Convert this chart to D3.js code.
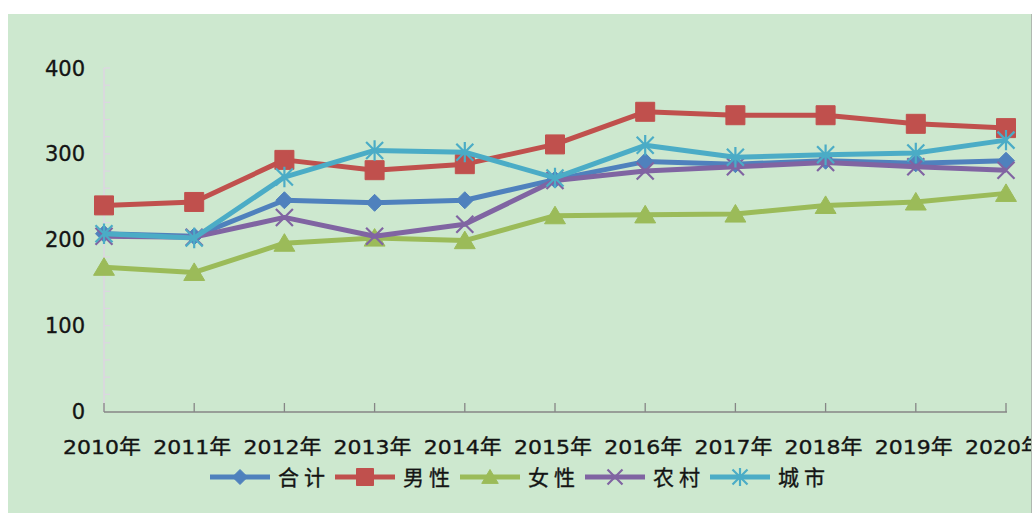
<!DOCTYPE html>
<html>
<head>
<meta charset="utf-8">
<style>
  body { margin: 0; background: #fff; }
  text { font-family: "DejaVu Sans", "Noto Sans CJK SC", sans-serif; fill: #141414; stroke: #141414; stroke-width: 0.35px; }
</style>
</head>
<body>
<svg width="1034" height="513"></svg>
<script src="https://d3js.org/d3.v7.min.js"></script>
<script>

var years = ["2010年", "2011年", "2012年", "2013年", "2014年", "2015年", "2016年", "2017年", "2018年", "2019年", "2020年"],
    seriesNames = ["合计", "男性", "女性", "农村", "城市"],
    total = [207, 204, 246, 243, 246, 270, 291, 288, 292, 289, 292],
    male = [240, 244, 293, 281, 288, 311, 349, 345, 345, 335, 330],
    female = [168, 162, 196, 202, 199, 228, 229, 230, 240, 244, 254],
    rural = [204, 203, 226, 204, 218, 269, 280, 285, 290, 285, 281],
    urban = [207, 202, 273, 304, 302, 272, 310, 296, 299, 301, 316],
    yTicks = [0, 100, 200, 300, 400];

var colors = ["#4f81bd", "#c0504d", "#9bbb59", "#8064a2", "#4bacc6"],
    markers = ["diamond", "square", "triangle", "cross", "star"],
    allValues = [total, male, female, rural, urban];

var svg = d3.select("svg"),
    width = +svg.attr("width"),
    height = +svg.attr("height");

// panel background
svg.append("defs").append("clipPath").attr("id", "panel")
  .append("rect").attr("x", 8).attr("y", 14).attr("width", 1023).attr("height", height - 14);

svg.append("rect")
    .attr("x", 8).attr("y", 14)
    .attr("width", 1023).attr("height", height - 14)
    .attr("fill", "#cde8cf");
svg.append("line")
    .attr("x1", 1031.5).attr("x2", 1031.5).attr("y1", 14).attr("y2", height)
    .attr("stroke", "#b0b8b0").attr("stroke-width", 1);

var g = svg.append("g").attr("clip-path", "url(#panel)");

var x = d3.scalePoint().domain(years).range([104, 1006]),
    y = d3.scaleLinear().domain([0, 400]).range([411.5, 68]);

// y axis: faint line with minor ticks every 20
var yAxis = g.append("g");
yAxis.append("line")
    .attr("x1", 104).attr("x2", 104).attr("y1", y(400)).attr("y2", y(0))
    .attr("stroke", "#ddd5e2").attr("stroke-width", 1.5);
yAxis.selectAll(".ytick").data(d3.range(20, 401, 20)).enter().append("line")
    .attr("x1", 104).attr("x2", 110)
    .attr("y1", function(d) { return y(d); }).attr("y2", function(d) { return y(d); })
    .attr("stroke", "#ddd5e2").attr("stroke-width", 1.2);
yAxis.selectAll(".ylabel").data(yTicks).enter().append("text")
    .attr("x", 85).attr("y", function(d) { return y(d); })
    .attr("dy", "0.36em")
    .attr("text-anchor", "end")
    .style("font-size", "21px")
    .text(function(d) { return d; });

// x axis
var xAxis = g.append("g");
xAxis.append("line")
    .attr("x1", x(years[0])).attr("x2", x(years[years.length - 1]) + 1)
    .attr("y1", 412).attr("y2", 412)
    .attr("stroke", "#868686").attr("stroke-width", 1.6);
xAxis.selectAll(".xtick").data(years).enter().append("line")
    .attr("x1", function(d) { return x(d); }).attr("x2", function(d) { return x(d); })
    .attr("y1", 403).attr("y2", 412)
    .attr("stroke", "#868686").attr("stroke-width", 1.3);
xAxis.selectAll(".xlabel").data(years).enter().append("text")
    .attr("x", function(d) { return x(d) - 2; })
    .attr("y", 454)
    .attr("text-anchor", "middle")
    .attr("textLength", 78)
    .attr("lengthAdjust", "spacingAndGlyphs")
    .style("font-size", "20px")
    .text(function(d) { return d; });

function markerPath(type, s) {
  var r = s / 2;
  if (type === "diamond") return "M0," + (-r) + "L" + r + ",0L0," + r + "L" + (-r) + ",0Z";
  if (type === "square") return "M" + (-r) + "," + (-r) + "h" + s + "v" + s + "h" + (-s) + "Z";
  if (type === "triangle") return "M0," + (-r) + "L" + (r * 1.1) + "," + (r * 0.85) + "L" + (-r * 1.1) + "," + (r * 0.85) + "Z";
  if (type === "cross") return "M" + (-r) + "," + (-r) + "L" + r + "," + r + "M" + (-r) + "," + r + "L" + r + "," + (-r);
  return "M" + (-r) + "," + (-r) + "L" + r + "," + r + "M" + (-r) + "," + r + "L" + r + "," + (-r) + "M0," + (-r * 1.2) + "V" + (r * 1.2);
}
var markerSize = { diamond: 17, square: 19, triangle: 19, cross: 17, star: 17 };

function drawMarker(sel, i, size) {
  var t = markers[i];
  var p = sel.append("path").attr("d", markerPath(t, size || markerSize[t]));
  if (t === "cross" || t === "star") {
    p.attr("fill", "none").attr("stroke", colors[i]).attr("stroke-width", 2.2);
  } else {
    p.attr("fill", colors[i]).attr("stroke", colors[i]).attr("stroke-width", 1);
  }
}

var line = d3.line()
    .x(function(d, i) { return x(years[i]); })
    .y(function(d) { return y(d); });

allValues.forEach(function(vals, si) {
  var sg = g.append("g");
  sg.append("path")
      .datum(vals)
      .attr("d", line)
      .attr("fill", "none")
      .attr("stroke", colors[si])
      .attr("stroke-width", 5)
      .attr("stroke-linejoin", "round");
  vals.forEach(function(v, i) {
    var m = sg.append("g").attr("transform", "translate(" + x(years[i]) + "," + y(v) + ")");
    drawMarker(m, si);
  });
});

// legend
var legend = g.append("g").attr("transform", "translate(210,477)");
seriesNames.forEach(function(name, i) {
  var item = legend.append("g").attr("transform", "translate(" + (i * 125) + ",0)");
  item.append("line")
      .attr("x1", 0).attr("x2", 60).attr("y1", 0).attr("y2", 0)
      .attr("stroke", colors[i]).attr("stroke-width", 5);
  var m = item.append("g").attr("transform", "translate(30,0)");
  drawMarker(m, i, markers[i] === "square" ? 17 : 15);
  item.append("text")
      .attr("x", 68).attr("y", 0).attr("dy", "0.36em")
      .style("font-family", "'Noto Sans CJK SC', sans-serif")
      .style("font-size", "21px")
      .style("letter-spacing", "5px")
      .text(name);
});

</script>
</body>
</html>
